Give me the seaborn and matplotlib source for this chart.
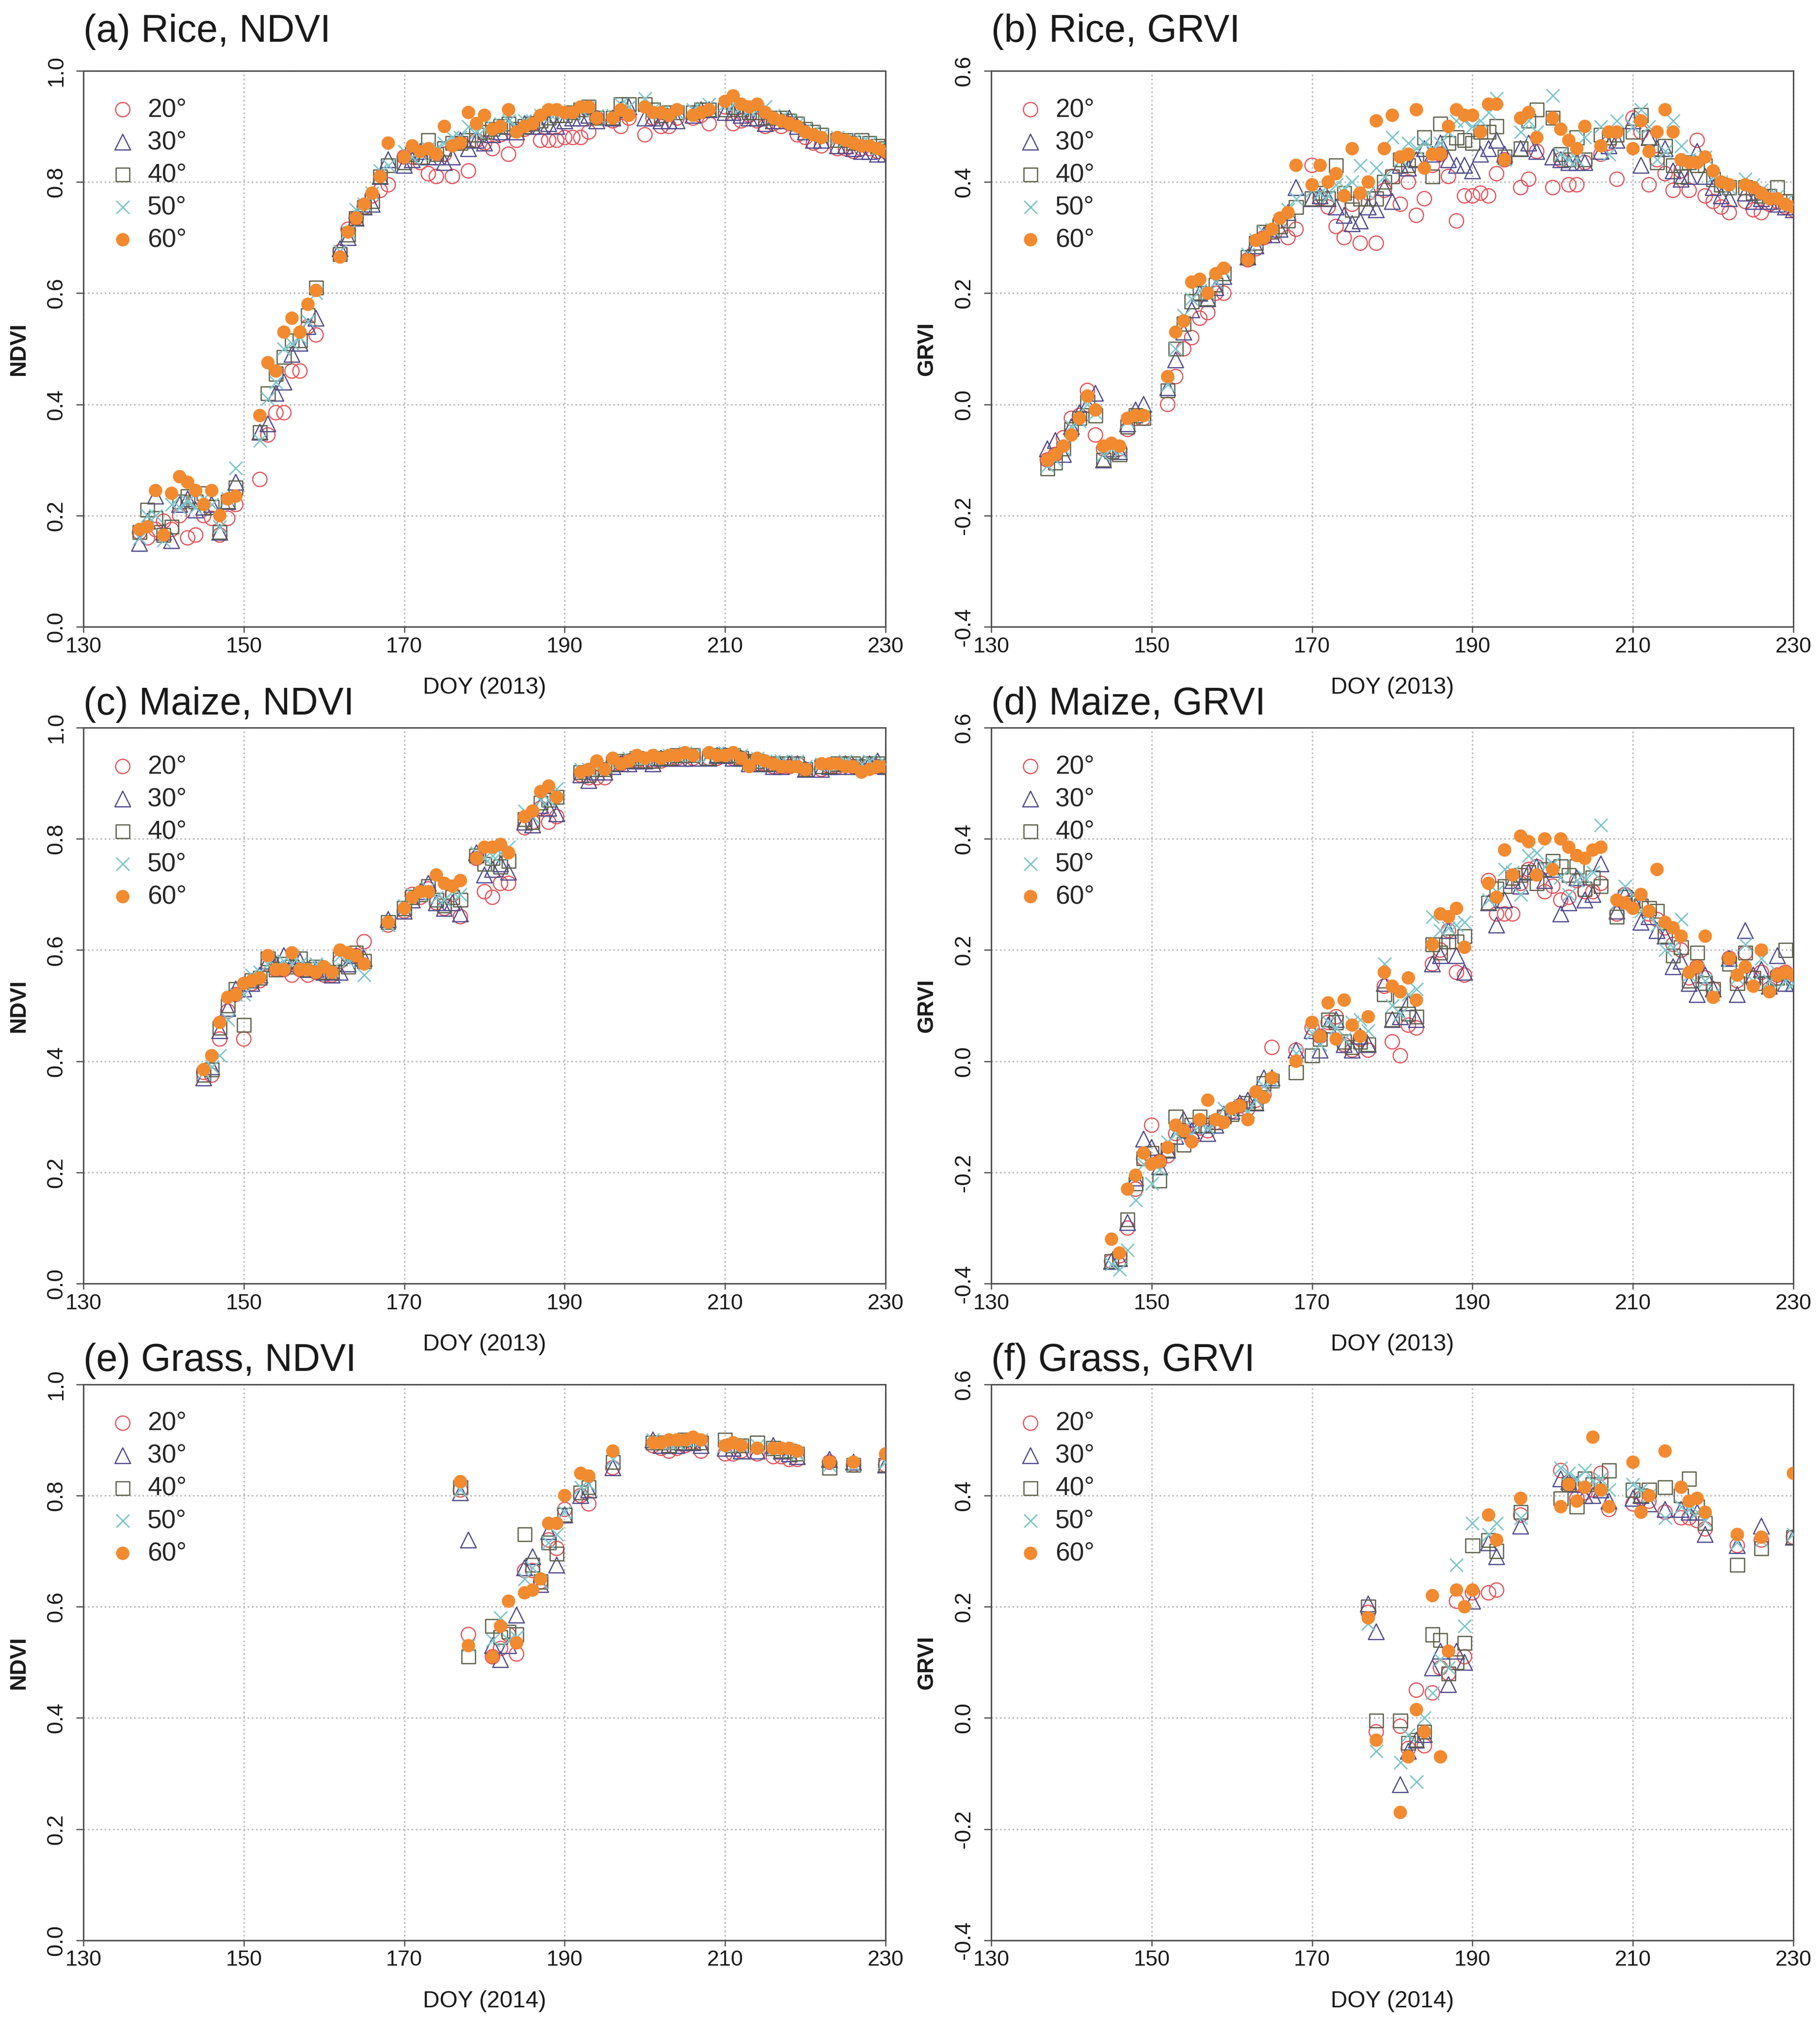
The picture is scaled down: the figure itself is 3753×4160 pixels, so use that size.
import numpy as np
import pandas as pd
import matplotlib
matplotlib.use("Agg")
import matplotlib.pyplot as plt
import seaborn as sns

sns.set_theme(style="white")
plt.rcParams["font.family"] = ["Liberation Sans", "DejaVu Sans"]
plt.rcParams["axes.unicode_minus"] = False

# --- DATA ---
angles = ["20°", "30°", "40°", "50°", "60°"]

rice_doy = [137, 138, 139, 140, 141, 142, 143, 144, 145, 146, 147, 148, 149,
            152, 153, 154, 155, 156, 157, 158, 159,
            162, 163, 164, 165, 166, 167, 168,
            170, 171, 172, 173, 174, 175, 176, 177, 178, 179, 180, 181, 182, 183,
            184, 185, 186, 187, 188, 189, 190, 191, 192, 193, 194,
            196, 197, 198,
            200, 201, 202, 203, 204,
            206, 207, 208,
            210, 211, 212, 213, 214, 215, 216, 217, 218, 219, 220, 221, 222,
            224, 225, 226, 227, 228, 229, 230]

rice_ndvi_20 = [.17, .16, .175, .19, .175, .20, .16, .165, .20, .195, .165, .195, .22,
                .265, .345, .385, .385, .46, .46, .54, .525,
                .675, .715, .735, .755, .775, .785, .795,
                .845, .845, .835, .815, .81, .85, .81, .87, .82, .875, .87, .86, .885, .85,
                .875, .895, .905, .875, .875, .875, .88, .88, .88, .89, .915,
                .91, .90, .915,
                .885, .915, .90, .90, .915,
                .915, .92, .905,
                .935, .905, .91, .92, .91, .90, .905, .90, .905, .885, .88, .87, .865,
                .86, .86, .855, .86, .86, .855, .855]
rice_ndvi_30 = [.15, .19, .235, .17, .155, .22, .23, .21, .215, .22, .17, .225, .26,
                .35, .365, .42, .44, .49, .51, .54, .555,
                .68, .70, .735, .755, .76, .81, .84,
                .83, .84, .855, .845, .845, .835, .845, .875, .86, .875, .87, .885, .89, .90,
                .89, .905, .90, .90, .905, .90, .91, .915, .915, .92, .91,
                .915, .93, .935,
                .915, .915, .91, .91, .91,
                .92, .93, .93,
                .925, .925, .92, .915, .915, .905, .91, .91, .915, .90, .89, .875, .875,
                .865, .865, .86, .855, .855, .85, .85]
rice_ndvi_40 = [.17, .21, .195, .165, .18, .225, .235, .225, .24, .215, .17, .225, .25,
                .35, .42, .455, .485, .515, .515, .56, .61,
                .67, .705, .735, .755, .765, .81, .83,
                .835, .85, .845, .875, .85, .86, .87, .87, .875, .885, .89, .895, .90, .905,
                .895, .90, .905, .91, .915, .92, .92, .925, .93, .935, .915,
                .915, .94, .94,
                .94, .93, .92, .925, .925,
                .925, .93, .93,
                .93, .935, .93, .925, .925, .915, .915, .915, .91, .905, .895, .89, .885,
                .875, .875, .87, .875, .87, .865, .86]
rice_ndvi_50 = [.16, .20, .20, .155, .22, .215, .225, .215, .23, .22, .18, .23, .285,
                .335, .41, .44, .50, .51, .52, .55, .60,
                .675, .71, .75, .76, .78, .82, .83,
                .855, .845, .85, .86, .86, .87, .88, .88, .90, .89, .895, .90, .905, .91,
                .90, .91, .91, .92, .925, .925, .925, .925, .93, .935, .92,
                .92, .94, .935,
                .95, .93, .925, .925, .925,
                .93, .93, .94,
                .94, .94, .935, .93, .93, .935, .92, .915, .91, .905, .895, .89, .885,
                .88, .875, .875, .87, .87, .86, .86]
rice_ndvi_60 = [.175, .18, .245, .165, .24, .27, .26, .245, .22, .245, .20, .23, .235,
                .38, .475, .46, .53, .555, .53, .58, .605,
                .665, .71, .735, .76, .78, .81, .87,
                .845, .865, .855, .86, .85, .90, .865, .87, .925, .905, .92, .895, .90, .93,
                .89, .90, .905, .92, .93, .93, .925, .925, .935, .935, .915,
                .915, .93, .92,
                .935, .925, .925, .92, .93,
                .92, .925, .93,
                .945, .955, .94, .935, .94, .925, .915, .91, .905, .90, .89, .885, .88,
                .88, .875, .87, .865, .865, .86, .855]

rice_grvi_20 = [-.10, -.09, -.06, -.025, -.02, .025, -.055, -.08, -.085, -.08, -.045, -.025, -.025,
                .0, .05, .10, .12, .155, .165, .20, .20,
                .26, .28, .30, .31, .33, .30, .315,
                .43, .37, .355, .32, .30, .36, .29, .38, .29, .385, .41, .36, .40, .34,
                .37, .43, .45, .41, .33, .375, .375, .38, .375, .415, .44,
                .39, .405, .455,
                .39, .44, .395, .395, .435,
                .45, .47, .405,
                .515, .49, .395, .44, .415, .385, .42, .385, .475, .375, .365, .355, .345,
                .365, .35, .345, .36, .365, .355, .35]
rice_grvi_30 = [-.08, -.065, -.09, -.04, -.015, .0, .02, -.10, -.08, -.085, -.035, -.01, .0,
                .03, .08, .13, .17, .20, .19, .21, .23,
                .265, .285, .305, .305, .315, .345, .39,
                .37, .375, .37, .355, .34, .325, .33, .355, .35, .39, .365, .43, .425, .44,
                .46, .45, .47, .44, .43, .43, .42, .45, .46, .475, .45,
                .46, .47, .455,
                .445, .44, .435, .435, .435,
                .455, .465, .475,
                .51, .43, .48, .46, .46, .42, .405, .41, .455, .41, .39, .375, .37,
                .38, .365, .37, .365, .36, .355, .35]
rice_grvi_40 = [-.115, -.105, -.08, -.045, -.025, .005, -.02, -.10, -.085, -.09, -.04, -.02, -.025,
                .025, .10, .145, .185, .20, .19, .215, .235,
                .265, .29, .31, .31, .32, .33, .355,
                .37, .38, .37, .43, .38, .35, .37, .37, .37, .40, .41, .44, .43, .44,
                .48, .41, .505, .47, .48, .475, .47, .49, .49, .50, .445,
                .46, .51, .53,
                .515, .45, .44, .48, .44,
                .485, .48, .485,
                .49, .52, .48, .435, .465, .43, .41, .435, .43, .43, .405, .395, .39,
                .39, .38, .375, .375, .39, .365, .365]
rice_grvi_50 = [-.11, -.10, -.08, -.04, -.03, .0, -.015, -.09, -.08, -.085, -.03, -.02, -.02,
                .035, .10, .16, .19, .205, .20, .22, .24,
                .27, .295, .31, .315, .33, .35, .37,
                .385, .38, .375, .395, .39, .40, .43, .38, .425, .41, .48, .44, .47, .46,
                .47, .46, .47, .49, .51, .51, .50, .51, .525, .55, .44,
                .49, .51, .49,
                .555, .45, .44, .44, .48,
                .50, .45, .51,
                .50, .53, .50, .44, .455, .51, .465, .44, .44, .445, .41, .40, .39,
                .405, .395, .385, .375, .375, .365, .36]
rice_grvi_60 = [-.10, -.09, -.075, -.055, -.025, .015, -.01, -.075, -.07, -.075, -.025, -.02, -.02,
                .05, .13, .15, .22, .225, .20, .235, .245,
                .26, .295, .30, .315, .335, .345, .43,
                .395, .43, .40, .415, .375, .46, .38, .40, .51, .46, .52, .445, .45, .53,
                .425, .45, .45, .50, .53, .52, .52, .49, .54, .54, .44,
                .515, .525, .48,
                .515, .495, .475, .46, .50,
                .465, .49, .49,
                .46, .51, .455, .49, .53, .49, .44, .435, .435, .445, .42, .40, .395,
                .395, .39, .38, .37, .37, .36, .355]

maize_doy = [145, 146, 147, 148, 149, 150, 151, 152, 153, 154, 155, 156, 157, 158, 159,
             160, 161, 162, 163, 164, 165,
             168,
             170, 171, 172, 173, 174, 175, 176, 177,
             179, 180, 181, 182, 183,
             185, 186, 187, 188, 189,
             192, 193, 194, 195, 196, 197, 198, 199, 200, 201, 202, 203, 204, 205, 206,
             208, 209, 210, 211, 212, 213, 214, 215, 216, 217, 218, 219, 220,
             222, 223, 224, 225, 226, 227, 228, 229, 230]

maize_ndvi_20 = [.38, .375, .44, .49, .52, .44, .54, .545, .575, .565, .565, .555, .565, .555, .56,
                 .555, .555, .58, .59, .59, .615,
                 .645,
                 .67, .70, .695, .71, .685, .675, .70, .66,
                 .765, .705, .695, .72, .72,
                 .82, .83, .855, .83, .84,
                 .915, .91, .91, .91, .935, .935, .94, .94, .94, .94, .94, .945, .945, .95, .945,
                 .945, .945, .95, .945, .945, .935, .935, .935, .93, .93, .93, .935, .925,
                 .925, .93, .93, .935, .93, .925, .93, .93, .93]
maize_ndvi_30 = [.37, .39, .455, .495, .53, .53, .54, .555, .58, .575, .59, .575, .58, .565, .565,
                 .56, .555, .56, .575, .59, .585,
                 .655,
                 .67, .69, .705, .72, .685, .675, .685, .665,
                 .775, .735, .745, .755, .74,
                 .83, .825, .86, .855, .845,
                 .915, .905, .92, .92, .93, .935, .935, .94, .94, .935, .945, .945, .945, .945, .945,
                 .945, .95, .95, .945, .945, .935, .935, .935, .93, .93, .935, .935, .925,
                 .925, .93, .93, .935, .93, .93, .935, .94, .93]
maize_ndvi_40 = [.375, .385, .46, .50, .53, .465, .545, .55, .585, .565, .575, .57, .585, .565, .57,
                 .56, .56, .585, .57, .595, .58,
                 .65,
                 .675, .695, .70, .715, .69, .68, .695, .69,
                 .77, .755, .765, .75, .76,
                 .835, .83, .865, .87, .875,
                 .92, .915, .925, .925, .935, .94, .94, .945, .94, .94, .945, .945, .95, .95, .95,
                 .945, .95, .95, .95, .945, .94, .94, .935, .935, .935, .935, .935, .925,
                 .93, .93, .935, .935, .935, .93, .935, .935, .93]
maize_ndvi_50 = [.38, .39, .41, .475, .52, .52, .555, .56, .575, .57, .58, .575, .575, .57, .575,
                 .565, .565, .59, .58, .59, .555,
                 .645,
                 .68, .70, .70, .71, .695, .69, .705, .70,
                 .775, .765, .77, .775, .785,
                 .85, .84, .87, .87, .89,
                 .925, .925, .93, .93, .94, .94, .945, .945, .945, .945, .95, .95, .95, .955, .95,
                 .95, .955, .955, .95, .95, .94, .945, .94, .94, .94, .935, .94, .93,
                 .935, .935, .935, .94, .935, .935, .94, .935, .935]
maize_ndvi_60 = [.385, .41, .47, .515, .52, .54, .545, .55, .59, .565, .565, .595, .565, .565, .56,
                 .57, .56, .60, .595, .59, .575,
                 .65,
                 .675, .695, .705, .705, .735, .72, .715, .725,
                 .765, .785, .785, .79, .775,
                 .84, .85, .885, .895, .875,
                 .92, .925, .94, .925, .945, .935, .94, .95, .945, .95, .945, .95, .95, .955, .95,
                 .955, .95, .95, .955, .945, .93, .945, .94, .935, .93, .93, .93, .925,
                 .935, .935, .935, .93, .93, .92, .925, .93, .93]

maize_grvi_20 = [-.36, -.35, -.30, -.23, -.175, -.115, -.18, -.17, -.13, -.125, -.14, -.12, -.125, -.11, -.10,
                 -.09, -.08, -.085, -.07, -.06, .025,
                 .02,
                 .06, .045, .07, .08, .03, .02, .04, .02,
                 .135, .035, .01, .065, .06,
                 .175, .20, .235, .16, .155,
                 .325, .265, .265, .265, .32, .345, .35, .305, .315, .29, .295, .325, .305, .305, .32,
                 .265, .30, .29, .28, .265, .255, .24, .21, .20, .15, .17, .15, .13,
                 .185, .145, .195, .15, .16, .13, .155, .16, .15]
maize_grvi_30 = [-.36, -.355, -.29, -.21, -.14, -.155, -.19, -.16, -.135, -.105, -.125, -.115, -.13, -.115, -.095,
                 -.09, -.075, -.07, -.075, -.03, -.03,
                 .02,
                 .055, .02, .065, .075, .03, .02, .045, .03,
                 .14, .075, .08, .105, .075,
                 .175, .19, .235, .19, .16,
                 .285, .245, .29, .325, .315, .34, .35, .325, .345, .265, .285, .33, .29, .30, .355,
                 .27, .30, .29, .25, .26, .235, .225, .17, .18, .14, .12, .155, .13,
                 .185, .12, .235, .155, .165, .135, .19, .14, .14]
maize_grvi_40 = [-.36, -.355, -.285, -.22, -.175, -.165, -.215, -.16, -.10, -.15, -.115, -.10, -.115, -.11, -.10,
                 -.095, -.085, -.075, -.075, -.04, -.035,
                 -.02,
                 .01, .04, .075, .07, .035, .025, .035, .03,
                 .12, .075, .11, .085, .08,
                 .21, .195, .215, .215, .225,
                 .285, .31, .315, .33, .335, .34, .32, .345, .36, .35, .335, .35, .31, .33, .315,
                 .26, .295, .285, .28, .275, .27, .225, .19, .205, .145, .195, .14, .13,
                 .175, .14, .195, .15, .14, .14, .15, .20, .15]
maize_grvi_50 = [-.365, -.375, -.34, -.25, -.185, -.22, -.195, -.145, -.13, -.12, -.13, -.11, -.12, -.11, -.085,
                 -.09, -.08, -.09, -.07, -.045, -.035,
                 .015,
                 .05, .03, .07, .06, .04, .07, .075, .055,
                 .175, .10, .085, .12, .13,
                 .26, .235, .24, .245, .25,
                 .29, .305, .345, .34, .30, .37, .375, .35, .355, .33, .30, .325, .33, .34, .425,
                 .285, .315, .30, .27, .265, .245, .20, .205, .255, .155, .165, .145, .12,
                 .18, .15, .21, .145, .185, .145, .16, .145, .14]
maize_grvi_60 = [-.32, -.345, -.23, -.205, -.165, -.185, -.18, -.155, -.115, -.125, -.145, -.105, -.07, -.105, -.11,
                 -.085, -.08, -.105, -.055, -.065, -.03,
                 .0,
                 .07, .045, .105, .04, .11, .065, .045, .08,
                 .16, .135, .125, .15, .11,
                 .21, .265, .26, .275, .205,
                 .32, .295, .38, .335, .405, .395, .335, .40, .345, .40, .385, .37, .365, .38, .385,
                 .29, .285, .275, .30, .27, .345, .25, .24, .225, .16, .17, .225, .115,
                 .185, .155, .17, .135, .20, .125, .155, .16, .155]

grass_doy = [177, 178, 181, 182, 183, 184, 185, 186, 187, 188, 189, 190, 192, 193, 196,
             201, 202, 203, 204, 205, 206, 207, 210, 211, 212, 214, 216, 217, 218, 219,
             223, 226, 230]

grass_ndvi_20 = [.81, .55, .51, .525, .55, .515, .665, .665, .645, .72, .705, .775, .80, .785, .85,
                 .89, .885, .88, .885, .89, .895, .88, .875, .875, .88, .875, .87, .87, .865, .865,
                 .86, .855, .855]
grass_ndvi_30 = [.805, .72, .53, .505, .53, .585, .67, .69, .64, .735, .675, .765, .80, .81, .85,
                 .90, .89, .89, .89, .895, .895, .89, .885, .885, .88, .88, .89, .88, .875, .87,
                 .865, .86, .855]
grass_ndvi_40 = [.815, .51, .565, .545, .555, .55, .73, .675, .645, .715, .695, .765, .805, .815, .86,
                 .895, .895, .89, .895, .90, .895, .895, .90, .89, .89, .895, .885, .88, .88, .875,
                 .85, .855, .855]
grass_ndvi_50 = [.81, .53, .54, .58, .54, .545, .65, .67, .645, .715, .73, .77, .815, .82, .865,
                 .90, .895, .895, .895, .90, .90, .90, .89, .89, .89, .89, .885, .885, .88, .875,
                 .855, .855, .86]
grass_ndvi_60 = [.825, .53, .51, .565, .61, .535, .625, .63, .65, .75, .75, .80, .84, .835, .88,
                 .895, .895, .90, .90, .90, .905, .90, .89, .895, .89, .885, .885, .885, .885, .88,
                 .86, .86, .875]

grass_grvi_20 = [.19, -.025, -.015, -.055, .05, -.05, .045, .09, .08, .21, .11, .225, .225, .23, .365,
                 .445, .42, .395, .405, .41, .44, .375, .385, .395, .39, .37, .36, .36, .355, .34,
                 .31, .32, .325]
grass_grvi_30 = [.205, .155, -.12, -.06, -.04, -.03, .09, .12, .06, .12, .10, .21, .315, .29, .345,
                 .43, .425, .42, .40, .40, .41, .39, .395, .40, .385, .375, .375, .37, .37, .33,
                 .31, .345, .325]
grass_grvi_40 = [.20, -.005, -.005, -.045, -.04, -.025, .15, .14, .08, .10, .135, .31, .32, .30, .37,
                 .395, .42, .38, .43, .42, .42, .445, .41, .40, .41, .415, .40, .43, .38, .35,
                 .275, .305, .325]
grass_grvi_50 = [.17, -.06, -.08, -.03, -.115, .0, .045, .105, .09, .275, .165, .35, .33, .35, .36,
                 .45, .44, .43, .445, .425, .43, .41, .42, .41, .40, .36, .38, .375, .37, .355,
                 .315, .32, .33]
grass_grvi_60 = [.18, -.04, -.17, -.07, .015, -.025, .22, -.07, .12, .23, .20, .23, .365, .32, .395,
                 .38, .42, .39, .415, .505, .41, .38, .46, .37, .40, .48, .415, .39, .395, .37,
                 .33, .325, .44]

# --- STYLE per view angle ---
styles = [
    dict(marker="o", facecolor="none", edgecolor="#E5535B", s=50, linewidth=0.6),
    dict(marker="^", facecolor="none", edgecolor="#4F4A8C", s=60, linewidth=0.6),
    dict(marker="s", facecolor="none", edgecolor="#5A5E48", s=46, linewidth=0.6),
    dict(marker="x", facecolor="#7CC6CA", color="#7CC6CA", s=42, linewidth=0.7),
    dict(marker="o", facecolor="#F28A30", edgecolor="none", s=44, linewidth=0),
]

panels = [
    ("(a) Rice, NDVI", rice_doy, [rice_ndvi_20, rice_ndvi_30, rice_ndvi_40, rice_ndvi_50, rice_ndvi_60],
     "NDVI", "DOY (2013)", 0, 0),
    ("(b) Rice, GRVI", rice_doy, [rice_grvi_20, rice_grvi_30, rice_grvi_40, rice_grvi_50, rice_grvi_60],
     "GRVI", "DOY (2013)", 0, 1),
    ("(c) Maize, NDVI", maize_doy, [maize_ndvi_20, maize_ndvi_30, maize_ndvi_40, maize_ndvi_50, maize_ndvi_60],
     "NDVI", "DOY (2013)", 1, 0),
    ("(d) Maize, GRVI", maize_doy, [maize_grvi_20, maize_grvi_30, maize_grvi_40, maize_grvi_50, maize_grvi_60],
     "GRVI", "DOY (2013)", 1, 1),
    ("(e) Grass, NDVI", grass_doy, [grass_ndvi_20, grass_ndvi_30, grass_ndvi_40, grass_ndvi_50, grass_ndvi_60],
     "NDVI", "DOY (2014)", 2, 0),
    ("(f) Grass, GRVI", grass_doy, [grass_grvi_20, grass_grvi_30, grass_grvi_40, grass_grvi_50, grass_grvi_60],
     "GRVI", "DOY (2014)", 2, 1),
]

col_left = [0.0458, 0.5446]
row_bottom = [0.6894, 0.3639, 0.0385]
ax_w, ax_h = 0.4408, 0.2755
title_gap = [0.052, 0.024, 0.024]

fig = plt.figure(figsize=(12.51, 13.867), dpi=300)

for title, doy, series, ylab, xlab, r, c in panels:
    ax = fig.add_axes([col_left[c], row_bottom[r], ax_w, ax_h])
    for vals, lab, st in zip(series, angles, styles):
        sns.scatterplot(x=doy, y=vals, ax=ax, label=lab, zorder=3, **st)

    ax.set_xlim(130, 230)
    ax.set_xticks([130, 150, 170, 190, 210, 230])
    if ylab == "NDVI":
        yt = [0.0, 0.2, 0.4, 0.6, 0.8, 1.0]
    else:
        yt = [-0.4, -0.2, 0.0, 0.2, 0.4, 0.6]
    ax.set_ylim(yt[0], yt[-1])
    ax.set_yticks(yt)
    ax.set_yticklabels([f"{v:.1f}" for v in yt], rotation=90, va="center", fontsize=11)

    ax.grid(True, linestyle=(0, (1, 1.6)), color="#BDBDBD", linewidth=0.8)
    ax.set_axisbelow(True)
    for sp in ax.spines.values():
        sp.set_color("#4D4D4D")
        sp.set_linewidth(0.7)
    ax.tick_params(axis="x", direction="out", length=2.9, width=0.6, color="#4D4D4D",
                   pad=2, labelsize=10.8, labelcolor="#1A1A1A", bottom=True)
    ax.tick_params(axis="y", direction="out", length=3.6, width=0.6, color="#4D4D4D",
                   pad=4.5, labelcolor="#1A1A1A", left=True)

    ax.set_xlabel(xlab, fontsize=11.5, labelpad=10, color="#1A1A1A")
    ax.set_ylabel(ylab, fontsize=11, fontweight="bold", labelpad=8, color="#1A1A1A")
    ax.text(0, 1 + title_gap[r], title, transform=ax.transAxes, fontsize=19,
            ha="left", va="baseline", color="#1A1A1A")

    ax.legend(loc="upper left", bbox_to_anchor=(0.033, 0.952), borderaxespad=0,
              borderpad=0, frameon=False, handlelength=1.0, handletextpad=0.46,
              labelspacing=0.32, fontsize=12.8, scatterpoints=1)

fig.savefig("out.png", dpi=300)
